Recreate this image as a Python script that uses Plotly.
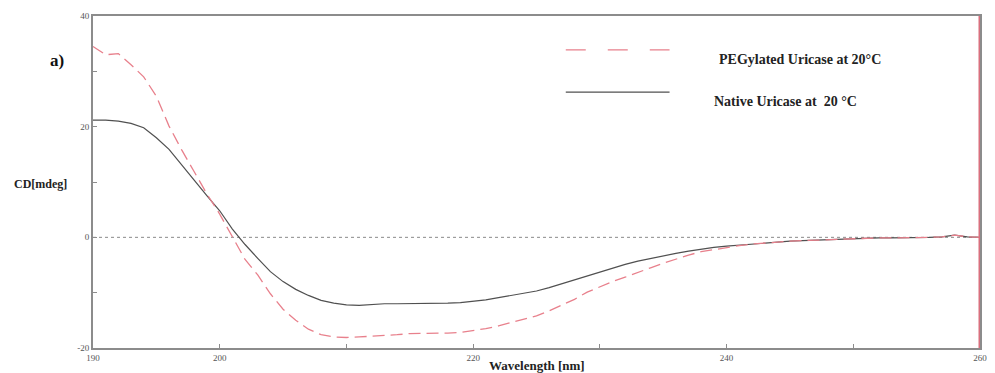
import plotly.graph_objects as go

# Wavelength grid (nm)
wavelength = list(range(190, 261))

# CD signal (mdeg), PEGylated uricase at 20 °C
cd_pegylated = [
    34.5, 33.0, 33.2, 31.2, 29.0, 25.5, 20.1, 15.8, 11.8, 7.8,
    4.2, 0.0, -4.0, -6.8, -10.2, -13.0, -15.0, -16.6, -17.6, -18.0,
    -18.1, -18.0, -17.9, -17.8, -17.6, -17.4, -17.4, -17.3, -17.3, -17.2,
    -16.9, -16.5, -16.0, -15.4, -14.8, -14.2, -13.3, -12.3, -11.2, -9.9,
    -8.9, -8.0, -7.2, -6.3, -5.5, -4.7, -3.9, -3.2, -2.6, -2.2,
    -1.8, -1.5, -1.2, -1.0, -0.9, -0.7, -0.6, -0.5, -0.4, -0.3,
    -0.3, -0.2, -0.1, -0.1, -0.1, 0.0, 0.0, 0.1, 0.4, 0.1,
    0.0,
]

# CD signal (mdeg), native uricase at 20 °C
cd_native = [
    21.2, 21.2, 21.0, 20.6, 19.8, 18.0, 15.9, 13.2, 10.3, 7.5,
    4.8, 1.5, -1.3, -3.8, -6.2, -8.0, -9.4, -10.5, -11.4, -11.9,
    -12.2, -12.3, -12.1, -12.0, -12.0, -12.0, -12.0, -12.0, -11.9, -11.8,
    -11.6, -11.3, -10.9, -10.5, -10.1, -9.7, -9.1, -8.4, -7.7, -7.0,
    -6.2, -5.5, -4.9, -4.3, -3.8, -3.3, -2.9, -2.5, -2.1, -1.8,
    -1.6, -1.4, -1.2, -1.0, -0.9, -0.7, -0.6, -0.5, -0.4, -0.3,
    -0.3, -0.2, -0.1, -0.1, -0.1, 0.0, 0.0, 0.1, 0.4, 0.1,
    0.0,
]

x_tickvals = [190, 200, 210, 220, 230, 240, 250, 260]
x_ticktext = ["190", "200", "", "220", "", "240", "", "260"]
y_tickvals = [-20, -10, 0, 10, 20, 30, 40]
y_ticktext = ["-20", "", "0", "", "20", "", "40"]

legend_peg = "PEGylated Uricase at 20°C"
legend_native = "Native Uricase at\u00a0 20 °C"

SERIF = "Liberation Serif, Times New Roman, serif"
RED = "#e8808c"
DARK = "#505050"
AXIS = "#8c8c8c"

fig = go.Figure()

# zero reference line
fig.add_trace(go.Scatter(
    x=[190, 260], y=[0, 0], mode="lines",
    line=dict(color="#8a8a8a", width=1, dash="dot"),
    hoverinfo="skip", showlegend=False,
))

fig.add_trace(go.Scatter(
    x=wavelength, y=cd_native, mode="lines", name=legend_native,
    line=dict(color=DARK, width=1.2), showlegend=False,
))
fig.add_trace(go.Scatter(
    x=wavelength, y=cd_pegylated, mode="lines", name=legend_peg,
    line=dict(color=RED, width=1.3, dash="12px,6px"), showlegend=False,
))

# right-hand red cursor line at the end of the scan
fig.add_trace(go.Scatter(
    x=[260, 260], y=[-20, 40], mode="lines",
    line=dict(color="#d9707e", width=3),
    hoverinfo="skip", showlegend=False,
))

# legend samples drawn inside the plot
fig.add_shape(type="line", xref="paper", yref="paper",
              x0=0.533, x1=0.650, y0=0.898, y1=0.898,
              line=dict(color=RED, width=1.3, dash="20px,22px"))
fig.add_shape(type="line", xref="paper", yref="paper",
              x0=0.533, x1=0.650, y0=0.771, y1=0.771,
              line=dict(color=DARK, width=1.2))

fig.add_annotation(xref="paper", yref="paper", x=0.704, y=0.898,
                   text="<b>" + legend_peg + "</b>", showarrow=False,
                   xanchor="left",
                   font=dict(family=SERIF, size=14, color="#222"))
fig.add_annotation(xref="paper", yref="paper", x=0.698, y=0.771,
                   text="<b>" + legend_native + "</b>", showarrow=False,
                   xanchor="left",
                   font=dict(family=SERIF, size=14, color="#222"))

# panel label and axis titles
fig.add_annotation(xref="paper", yref="paper", x=-0.041, y=0.9,
                   text="<b>a)</b>", showarrow=False, xanchor="center",
                   font=dict(family=SERIF, size=17, color="#111"))
fig.add_annotation(xref="paper", yref="paper", x=-0.059, y=0.495,
                   text="<b>CD[mdeg]</b>", showarrow=False, xanchor="center",
                   font=dict(family=SERIF, size=12, color="#222"))
fig.add_annotation(xref="paper", yref="paper", x=0.5, y=-0.054,
                   text="<b>Wavelength [nm]</b>", showarrow=False,
                   xanchor="center", yanchor="middle",
                   font=dict(family=SERIF, size=13, color="#222"))

fig.update_xaxes(
    range=[190, 260], tickvals=x_tickvals, ticktext=x_ticktext,
    ticks="inside", ticklen=4, tickcolor=AXIS, showgrid=False, zeroline=False,
    showline=True, linecolor=AXIS, linewidth=2, mirror=True,
    tickfont=dict(family=SERIF, size=9, color="#555"),
)
fig.update_yaxes(
    range=[-20, 40], tickvals=y_tickvals, ticktext=y_ticktext,
    ticks="inside", ticklen=4, tickcolor=AXIS, showgrid=False, zeroline=False,
    showline=True, linecolor=AXIS, linewidth=2, mirror=True,
    tickfont=dict(family=SERIF, size=9, color="#555"),
)

fig.update_layout(
    width=995, height=373,
    margin=dict(l=93, r=8, t=16, b=25),
    plot_bgcolor="white", paper_bgcolor="white",
    showlegend=False,
)

fig.write_html("out.html")
